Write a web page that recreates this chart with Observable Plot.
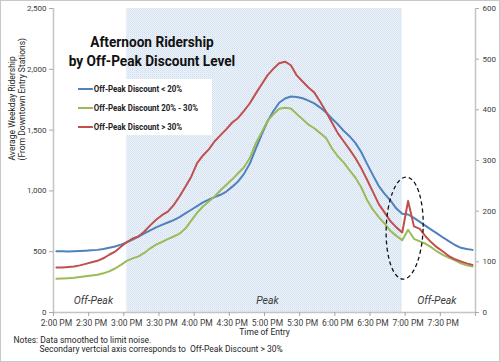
<!DOCTYPE html>
<html><head><meta charset="utf-8">
<script src="https://cdn.jsdelivr.net/npm/d3@7"></script>
<script src="https://cdn.jsdelivr.net/npm/@observablehq/plot@0.6"></script>
<style>
html,body{margin:0;padding:0;background:#fff;}
#wrap{position:relative;width:500px;height:362px;overflow:hidden;font-family:Roboto,"DejaVu Sans",sans-serif;}
#wrap svg{display:block;}
#frame{position:absolute;left:0;top:0;width:498px;height:360px;border:1px solid #c8c8c8;pointer-events:none;}
#title{position:absolute;left:152px;top:33px;transform:translateX(-50%) scaleX(0.88);white-space:nowrap;text-align:center;font-weight:700;font-size:15.5px;line-height:19px;color:#111;}
#legend{position:absolute;left:70px;top:79px;width:142px;height:56px;background:#fff;}
.item{position:absolute;left:8px;height:10px;display:flex;align-items:center;white-space:nowrap;font-weight:700;font-size:8.5px;color:#222;transform-origin:left center;transform:scaleX(0.93);}
.sw{display:inline-block;width:16px;height:2px;margin-right:1px;}
</style></head><body>
<div id="wrap"><div id="chart"></div><div id="title"></div><div id="legend"></div><div id="frame"></div></div>
<script>
// ---- data ----
const tickLabels = ["2:00 PM","2:30 PM","3:00 PM","3:30 PM","4:00 PM","4:30 PM","5:00 PM","5:30 PM","6:00 PM","6:30 PM","7:00 PM","7:30 PM"];
const stepsPerLabel = 6; // 5-minute entries, 2:00 PM .. 7:55 PM
const seriesNames = ["Off-Peak Discount < 20%","Off-Peak Discount 20% - 30%","Off-Peak Discount > 30%"];
const seriesColors = ["#4F81BD","#9BBB59","#C0504D"];
// left axis
const lowDiscount = [504,503,502,503,505,508,511,515,522,532,543,558,
  576,600,625,650,675,700,720,740,760,785,815,845,
  875,905,928,950,968,995,1035,1078,1140,1225,1345,1460,
  1570,1655,1725,1760,1776,1773,1762,1742,1720,1685,1645,1595,
  1548,1495,1450,1395,1320,1222,1130,1040,975,920,855,812,
  806,778,745,712,680,648,615,585,555,532,522,515];
// left axis
const midDiscount = [277,279,282,286,292,298,304,311,322,338,362,392,
  425,445,462,490,528,558,580,603,625,648,690,755,
  820,872,912,955,1005,1050,1095,1145,1195,1270,1390,1480,
  1575,1630,1675,1683,1678,1632,1590,1545,1515,1475,1435,1350,
  1285,1235,1170,1110,1030,925,845,785,730,670,630,595,
  680,606,585,565,535,500,472,450,428,405,388,378];
// right (secondary) axis
const highDiscount = [89,89,90,91,93,96,99,102,107,114,120,130,
  139,146,150,160,172,183,192,199,212,229,248,268,
  295,310,322,338,350,362,375,384,398,413,432,450,
  468,481,492,495,488,468,456,444,434,416,396,375,
  354,338,322,305,285,262,238,214,197,180,168,158,
  220,170,165,150,138,128,120,111,105,101,97,94];
const leftTicks = [0,500,1000,1500,2000,2500];
const rightTicks = [0,100,200,300,400,500,600];
const peakRange = [12, 59]; // 3:00 PM .. 6:55 PM
const periodLabels = [{label:"Off-Peak", i:6.3},{label:"Peak", i:36},{label:"Off-Peak", i:64.9}];
const callout = {i:59.5, value:690, halfSteps:3.15, halfValue:420};
const yTitle = ["Average Weekday Ridership","(From Downtown Entry Stations)"];
const xTitle = "Time of Entry";
const notes = ["Notes: Data smoothed to limit noise.","Secondary vertcial axis corresponds to  Off-Peak Discount > 30%"];
const titleLines = ["Afternoon Ridership","by Off-Peak Discount Level"];

// ---- build ----
const ratio = leftTicks[leftTicks.length-1] / rightTicks[rightTicks.length-1];
const rows = [];
[lowDiscount, midDiscount, highDiscount].forEach((arr, s) => {
  arr.forEach((v, i) => rows.push({i, name: seriesNames[s], y: s === 2 ? v * ratio : v}));
});
const n = lowDiscount.length;
const labelIdx = tickLabels.map((_, j) => j * stepsPerLabel);
const boundaries = tickLabels.map((_, j) => j * stepsPerLabel - 0.5).concat([n - 0.5]);

const defsMark = () => {
  const defs = d3.create("svg:defs");
  const p = defs.append("pattern").attr("id","peakPattern").attr("patternUnits","userSpaceOnUse").attr("width",2).attr("height",2);
  p.append("rect").attr("width",2).attr("height",2).attr("fill","#eff4fb");
  p.append("rect").attr("width",1).attr("height",1).attr("fill","#cfddf0");
  p.append("rect").attr("x",1).attr("y",1).attr("width",1).attr("height",1).attr("fill","#dae5f4");
  return defs.node();
};
const ellipseMark = (index, scales) => {
  const cx = scales.x(callout.i), cy = scales.y(callout.value);
  const rx = scales.x(callout.i + callout.halfSteps) - cx;
  const ry = cy - scales.y(callout.value + callout.halfValue);
  const e = d3.create("svg:ellipse").attr("cx",cx).attr("cy",cy).attr("rx",rx).attr("ry",ry)
    .attr("fill","none").attr("stroke","#111").attr("stroke-width",1.3).attr("stroke-dasharray","4,3")
    .attr("transform",`rotate(2 ${cx} ${cy})`);
  return e.node();
};

const chart = Plot.plot({
  width: 500, height: 362,
  marginLeft: 53, marginRight: 25, marginTop: 8, marginBottom: 50,
  style: {fontFamily: "Roboto, 'DejaVu Sans', sans-serif", fontSize: "8px", color: "#404040", background: "#fff", overflow: "visible"},
  x: {domain: [-0.5, n - 0.5], axis: null},
  y: {domain: [0, leftTicks[leftTicks.length-1]], axis: null},
  color: {domain: seriesNames, range: seriesColors},
  marks: [
    defsMark,
    Plot.rect([peakRange], {x1: d => d[0], x2: d => d[1], y1: 0, y2: leftTicks[leftTicks.length-1], fill: "url(#peakPattern)"}),
    Plot.text(periodLabels, {x: "i", text: "label", frameAnchor: "bottom", dy: -9, fontSize: 10.5, fontStyle: "italic", fill: "#3a3a3a"}),
    Plot.line(rows, {x: "i", y: "y", z: "name", stroke: "name", strokeWidth: 2}),
    ellipseMark,
    Plot.ruleX([-0.5, n - 0.5], {stroke: "#c4c4c4", strokeWidth: 1.5}),
    Plot.ruleY([0], {stroke: "#c4c4c4", strokeWidth: 1.5}),
    Plot.axisY(leftTicks, {anchor: "left", tickSize: 4, tickPadding: 3, tickFormat: d3.format(","), stroke: "#a8a8a8", label: null}),
    Plot.axisY(rightTicks.map(t => t * ratio), {anchor: "right", tickSize: 3, tickPadding: 4, tickFormat: d => d3.format(",")(Math.round(d / ratio)), stroke: "#a8a8a8", label: null}),
    Plot.axisX(boundaries, {tickSize: 4, tickFormat: () => "", stroke: "#a8a8a8", label: null}),
    Plot.axisX(labelIdx, {tickSize: 0, tickPadding: 7, tickFormat: d => tickLabels[d / stepsPerLabel], fontSize: 8.5, label: null}),
    Plot.text([yTitle[0]], {text: d => d, frameAnchor: "left", rotate: -90, dx: -41, fontSize: 8.5, fill: "#262626"}),
    Plot.text([yTitle[1]], {text: d => d, frameAnchor: "left", rotate: -90, dx: -31, fontSize: 8.5, fill: "#262626"}),
    Plot.text([xTitle], {text: d => d, frameAnchor: "bottom", dy: 22, fontSize: 8.5, fill: "#262626"}),
    Plot.text([notes[0]], {text: d => d, frameAnchor: "bottom-left", textAnchor: "start", dx: -40, dy: 30, fontSize: 8.5, fill: "#262626"}),
    Plot.text([notes[1]], {text: d => d, frameAnchor: "bottom-left", textAnchor: "start", dx: -14, dy: 39, fontSize: 8.5, fill: "#262626"})
  ]
});
document.getElementById("chart").appendChild(chart);

document.getElementById("title").innerHTML = titleLines.join("<br>");
const legend = d3.select("#legend");
seriesNames.forEach((name, s) => {
  const it = legend.append("div").attr("class","item").style("top", (5 + s * 19) + "px");
  it.append("span").attr("class","sw").style("background", seriesColors[s]);
  it.append("span").text(name);
});
</script>
</body></html>
